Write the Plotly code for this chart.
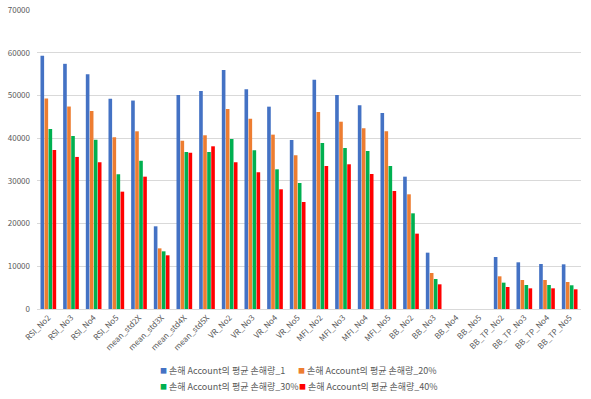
import plotly.graph_objects as go

categories = ["RSI_No2", "RSI_No3", "RSI_No4", "RSI_No5",
              "mean_std2X", "mean_std3X", "mean_std4X", "mean_std5X",
              "VR_No2", "VR_No3", "VR_No4", "VR_No5",
              "MFI_No2", "MFI_No3", "MFI_No4", "MFI_No5",
              "BB_No2", "BB_No3", "BB_No4", "BB_No5",
              "BB_TP_No2", "BB_TP_No3", "BB_TP_No4", "BB_TP_No5"]

loss_1 = [59300, 57400, 54950, 49200, 48800, 19360, 50100, 51040,
          55960, 51430, 47370, 39570, 53690, 50100, 47690, 45890,
          30980, 13190, 0, 0, 12180, 10930, 10540, 10460]
loss_20 = [49300, 47400, 46350, 40200, 41600, 14200, 39400, 40670,
           46830, 44560, 40820, 35980, 46120, 43850, 42300, 41600,
           26850, 8430, 0, 0, 7650, 6790, 6790, 6320]
loss_30 = [42150, 40500, 39650, 31550, 34700, 13500, 36760, 36760,
           39800, 37150, 32700, 29500, 38860, 37690, 36990, 33480,
           22400, 7020, 0, 0, 6170, 5620, 5620, 5550]
loss_40 = [37200, 35600, 34350, 27470, 30980, 12570, 36600, 38090,
           34350, 32000, 28020, 25050, 33480, 33880, 31600, 27630,
           17640, 5780, 0, 0, 5150, 4840, 4840, 4610]

series_names = ["손해 Account의 평균 손해량_1", "손해 Account의 평균 손해량_20%",
                "손해 Account의 평균 손해량_30%", "손해 Account의 평균 손해량_40%"]
series_values = [loss_1, loss_20, loss_30, loss_40]
colors = ["#4472C4", "#ED7D31", "#00B050", "#FF0000"]

FONT = "Noto Sans CJK KR, Noto Sans, sans-serif"
GRAY = "#595959"

fig = go.Figure()
for name, vals, col in zip(series_names, series_values, colors):
    fig.add_trace(go.Bar(x=categories, y=vals, name=name, marker_color=col,
                         marker_line_width=0, showlegend=False))

# Excel-style legend: two rows, colored square + label, positioned in pixels
legend_pos = [(159, 370), (297, 370), (159, 386), (298, 386)]
W, H = 591, 399
L, R, T, B = 37, 10, 10, 90
pw, ph = W - L - R, H - T - B
for (px, py), name, col in zip(legend_pos, series_names, colors):
    yy = (H - B - py) / ph
    fig.add_annotation(text="■", xref="paper", yref="paper",
                       x=(px - 1 - L) / pw, y=yy, xanchor="left", yanchor="middle",
                       showarrow=False, font=dict(size=7, color=col, family=FONT))
    fig.add_annotation(text=name, xref="paper", yref="paper",
                       x=(px + 8 - L) / pw, y=yy, xanchor="left", yanchor="middle",
                       showarrow=False, font=dict(size=9, color=GRAY, family=FONT))

fig.update_layout(
    width=W, height=H,
    margin=dict(l=L, r=R, t=T, b=B),
    paper_bgcolor="white", plot_bgcolor="white",
    barmode="group", bargap=0.29, bargroupgap=0.1,
    font=dict(family=FONT, color=GRAY, size=8),
    showlegend=False,
)
fig.update_xaxes(tickangle=-45, tickfont=dict(size=8, color=GRAY),
                 showline=True, linecolor="#D9D9D9", linewidth=1,
                 ticks="", showgrid=False, automargin=False)
fig.update_yaxes(range=[0, 70000], dtick=10000, tickformat="d",
                 gridcolor="#D9D9D9", gridwidth=1, zeroline=False,
                 tickfont=dict(size=8, color=GRAY), ticks="",
                 ticklabelstandoff=6, automargin=False)

fig.write_html("out.html", config={"displayModeBar": False},
               post_script="document.body.style.margin='0';document.body.style.overflow='hidden';")
